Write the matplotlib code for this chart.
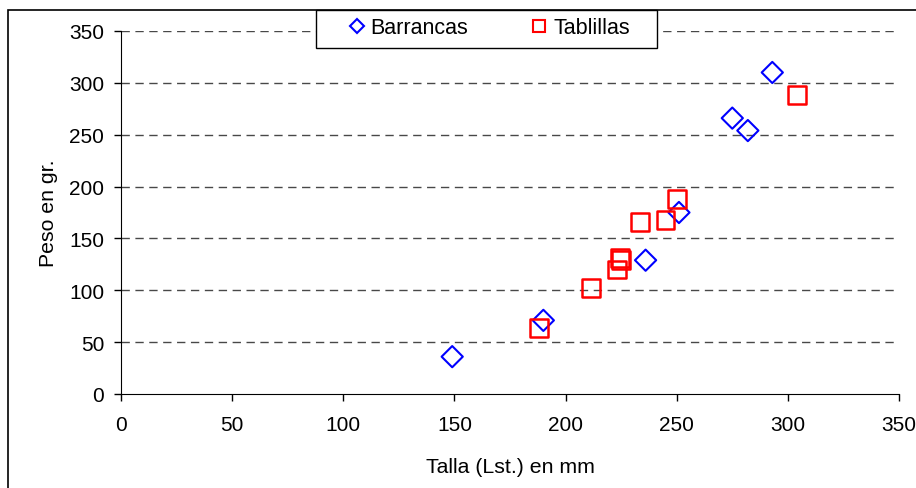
import matplotlib
matplotlib.use('Agg')
import matplotlib.pyplot as plt
from matplotlib.patches import Rectangle
from matplotlib.lines import Line2D

plt.rcParams['font.family'] = ['Liberation Sans', 'DejaVu Sans']

# Datos
talla_barrancas = [149, 190, 236, 251, 275, 282, 293]
peso_barrancas = [36, 71, 129, 175, 266, 254, 310]

talla_tablillas = [188, 211.5, 223, 224.5, 225, 233.5, 245, 250.3, 304]
peso_tablillas = [64, 102, 120, 131, 129, 166, 168, 188, 288]

XTICKS = [0, 50, 100, 150, 200, 250, 300, 350]
YTICKS = [0, 50, 100, 150, 200, 250, 300, 350]

W, H = 916, 489

fig = plt.figure(figsize=(W / 100, H / 100), dpi=100)
ax = fig.add_axes([121 / W, 1 - 395 / H, (899 - 121) / W, (395 - 32) / H])

# marco exterior del grafico
fig.patches.append(Rectangle((8 / W, -0.2), 1.5, 1.2 - 11 / H, transform=fig.transFigure,
                             fill=False, edgecolor='black', linewidth=1.2, clip_on=False))

for y in YTICKS[1:]:
    ax.axhline(y, color='#484848', linewidth=1, linestyle=(0, (6, 4)), zorder=1)

ax.scatter(talla_barrancas, peso_barrancas, marker='D', s=10.8 ** 2, facecolors='none',
           edgecolors='#0000ff', linewidths=1.5, zorder=3)
ax.scatter(talla_tablillas, peso_tablillas, marker='s', s=12.8 ** 2, facecolors='none',
           edgecolors='#ff0000', linewidths=1.8, zorder=3)

ax.set_xlim(0, 350)
ax.set_ylim(0, 350)
ax.set_xticks(XTICKS)
ax.set_yticks(YTICKS)
ax.spines['top'].set_visible(False)
ax.spines['right'].set_visible(False)
ax.tick_params(direction='out', length=5, width=1, labelsize=15)
ax.tick_params(axis='x', pad=10)
ax.tick_params(axis='y', pad=7)
ax.set_xlabel('Talla (Lst.) en mm', fontsize=15.3, labelpad=17)
ax.set_ylabel('Peso en gr.', fontsize=15.3, labelpad=8)

# caja de la leyenda
fig.patches.append(Rectangle((316 / W, 1 - 49 / H), 341 / W, 38 / H, transform=fig.transFigure,
                             facecolor='white', edgecolor='black', linewidth=1, zorder=4))

handles = [
    Line2D([0], [0], marker='D', linestyle='none', markersize=7, markerfacecolor='none',
           markeredgecolor='#0000ff', markeredgewidth=1.5),
    Line2D([0], [0], marker='s', linestyle='none', markersize=8, markerfacecolor='none',
           markeredgecolor='#ff0000', markeredgewidth=1.5),
]
leg = fig.legend(handles, ['Barrancas', 'Tablillas'], ncol=2, fontsize=15.5,
                 loc='center left', borderaxespad=0, borderpad=0,
                 bbox_to_anchor=(346 / W, 1 - 29 / H),
                 frameon=False, handletextpad=0.14, handlelength=1.0, columnspacing=2.8)
leg.set_zorder(5)

fig.savefig('out.png', dpi=100)
